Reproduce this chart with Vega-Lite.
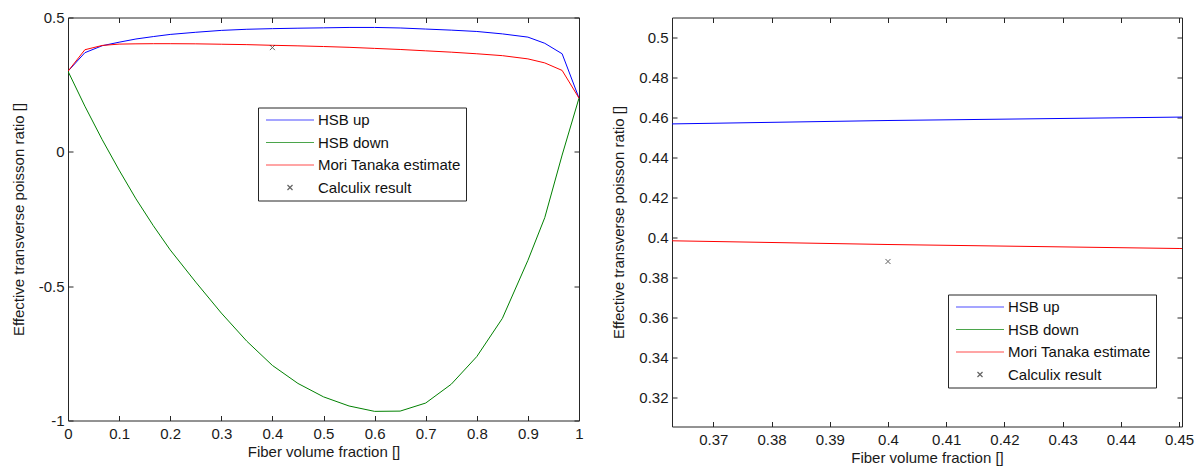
{
  "$schema": "https://vega.github.io/schema/vega-lite/v6.json",
  "padding": {"left": 10, "top": 9.5, "right": 5, "bottom": 3},
  "background": "white",
  "spacing": 93,
  "bounds": "flush",
  "data": {"values": [
    {"series": "HSB up", "x": 0, "y": 0.3}, {"series": "HSB up", "x": 0.033, "y": 0.369}, {"series": "HSB up", "x": 0.067, "y": 0.395}, {"series": "HSB up", "x": 0.1, "y": 0.408}, {"series": "HSB up", "x": 0.133, "y": 0.42}, {"series": "HSB up", "x": 0.167, "y": 0.429}, {"series": "HSB up", "x": 0.2, "y": 0.437}, {"series": "HSB up", "x": 0.25, "y": 0.445}, {"series": "HSB up", "x": 0.3, "y": 0.452}, {"series": "HSB up", "x": 0.35, "y": 0.4562}, {"series": "HSB up", "x": 0.4, "y": 0.4585}, {"series": "HSB up", "x": 0.45, "y": 0.4602}, {"series": "HSB up", "x": 0.5, "y": 0.4615}, {"series": "HSB up", "x": 0.55, "y": 0.463}, {"series": "HSB up", "x": 0.6, "y": 0.463}, {"series": "HSB up", "x": 0.65, "y": 0.461}, {"series": "HSB up", "x": 0.7, "y": 0.457}, {"series": "HSB up", "x": 0.75, "y": 0.453}, {"series": "HSB up", "x": 0.8, "y": 0.448}, {"series": "HSB up", "x": 0.85, "y": 0.439}, {"series": "HSB up", "x": 0.9, "y": 0.427}, {"series": "HSB up", "x": 0.933, "y": 0.404}, {"series": "HSB up", "x": 0.967, "y": 0.365}, {"series": "HSB up", "x": 1, "y": 0.2},
    {"series": "HSB down", "x": 0, "y": 0.3}, {"series": "HSB down", "x": 0.033, "y": 0.17}, {"series": "HSB down", "x": 0.067, "y": 0.045}, {"series": "HSB down", "x": 0.1, "y": -0.068}, {"series": "HSB down", "x": 0.133, "y": -0.175}, {"series": "HSB down", "x": 0.167, "y": -0.275}, {"series": "HSB down", "x": 0.2, "y": -0.365}, {"series": "HSB down", "x": 0.25, "y": -0.485}, {"series": "HSB down", "x": 0.3, "y": -0.6}, {"series": "HSB down", "x": 0.35, "y": -0.705}, {"series": "HSB down", "x": 0.4, "y": -0.795}, {"series": "HSB down", "x": 0.45, "y": -0.862}, {"series": "HSB down", "x": 0.5, "y": -0.912}, {"series": "HSB down", "x": 0.55, "y": -0.946}, {"series": "HSB down", "x": 0.6, "y": -0.966}, {"series": "HSB down", "x": 0.65, "y": -0.965}, {"series": "HSB down", "x": 0.7, "y": -0.935}, {"series": "HSB down", "x": 0.75, "y": -0.865}, {"series": "HSB down", "x": 0.8, "y": -0.762}, {"series": "HSB down", "x": 0.85, "y": -0.62}, {"series": "HSB down", "x": 0.9, "y": -0.404}, {"series": "HSB down", "x": 0.933, "y": -0.245}, {"series": "HSB down", "x": 0.967, "y": -0.012}, {"series": "HSB down", "x": 1, "y": 0.2},
    {"series": "Mori Tanaka estimate", "x": 0, "y": 0.3}, {"series": "Mori Tanaka estimate", "x": 0.033, "y": 0.38}, {"series": "Mori Tanaka estimate", "x": 0.067, "y": 0.396}, {"series": "Mori Tanaka estimate", "x": 0.1, "y": 0.401}, {"series": "Mori Tanaka estimate", "x": 0.133, "y": 0.402}, {"series": "Mori Tanaka estimate", "x": 0.167, "y": 0.4025}, {"series": "Mori Tanaka estimate", "x": 0.2, "y": 0.4025}, {"series": "Mori Tanaka estimate", "x": 0.25, "y": 0.402}, {"series": "Mori Tanaka estimate", "x": 0.3, "y": 0.4005}, {"series": "Mori Tanaka estimate", "x": 0.35, "y": 0.399}, {"series": "Mori Tanaka estimate", "x": 0.4, "y": 0.3965}, {"series": "Mori Tanaka estimate", "x": 0.45, "y": 0.3945}, {"series": "Mori Tanaka estimate", "x": 0.5, "y": 0.392}, {"series": "Mori Tanaka estimate", "x": 0.55, "y": 0.389}, {"series": "Mori Tanaka estimate", "x": 0.6, "y": 0.385}, {"series": "Mori Tanaka estimate", "x": 0.65, "y": 0.381}, {"series": "Mori Tanaka estimate", "x": 0.7, "y": 0.376}, {"series": "Mori Tanaka estimate", "x": 0.75, "y": 0.371}, {"series": "Mori Tanaka estimate", "x": 0.8, "y": 0.365}, {"series": "Mori Tanaka estimate", "x": 0.85, "y": 0.358}, {"series": "Mori Tanaka estimate", "x": 0.9, "y": 0.346}, {"series": "Mori Tanaka estimate", "x": 0.933, "y": 0.331}, {"series": "Mori Tanaka estimate", "x": 0.967, "y": 0.303}, {"series": "Mori Tanaka estimate", "x": 1, "y": 0.2},
    {"series": "Calculix result", "x": 0.4, "y": 0.388}
  ]},
  "resolve": {"scale": {"color": "independent", "shape": "independent"}, "legend": {"color": "independent", "shape": "independent"}},
  "hconcat": [
    {
      "width": 511,
      "height": 403,
      "resolve": {"axis": {"x": "independent", "y": "independent"}},
      "layer": [
        {
          "transform": [{"filter": "datum.series != 'Calculix result'"}],
          "mark": {"type": "line", "strokeWidth": 1, "clip": true},
          "encoding": {
            "x": {"field": "x", "type": "quantitative", "scale": {"domain": [0, 1], "nice": false, "zero": false},
                  "axis": {"orient": "bottom", "values": [0, 0.1, 0.2, 0.3, 0.4, 0.5, 0.6, 0.7, 0.8, 0.9, 1], "format": "~g", "labelFlush": false, "labelPadding": 11, "title": "Fiber volume fraction []", "titlePadding": 3}},
            "y": {"field": "y", "type": "quantitative", "scale": {"domain": [-1, 0.5], "nice": false, "zero": false},
                  "axis": {"orient": "left", "values": [-1, -0.5, 0, 0.5], "format": "~g", "labelPadding": 9, "title": "Effective transverse poisson ratio []", "titlePadding": 12}},
            "color": {"field": "series", "type": "nominal",
                      "scale": {"domain": ["HSB up", "HSB down", "Mori Tanaka estimate", "Calculix result"], "range": ["#0000ff", "#008000", "#ff0000", "#222222"]},
                      "legend": {"orient": "none", "legendX": 190, "legendY": 90}}
          }
        },
        {
          "transform": [{"filter": "datum.series == 'Calculix result'"}],
          "mark": {"type": "point", "filled": false, "strokeWidth": 1, "size": 144, "clip": true},
          "encoding": {
            "x": {"field": "x", "type": "quantitative", "axis": {"orient": "top", "values": [0, 0.1, 0.2, 0.3, 0.4, 0.5, 0.6, 0.7, 0.8, 0.9, 1], "labels": false, "title": null}},
            "y": {"field": "y", "type": "quantitative", "axis": {"orient": "right", "values": [-1, -0.5, 0, 0.5], "labels": false, "title": null}},
            "color": {"field": "series", "type": "nominal",
                      "scale": {"domain": ["HSB up", "HSB down", "Mori Tanaka estimate", "Calculix result"], "range": ["#0000ff", "#008000", "#ff0000", "#222222"]},
                      "legend": {"orient": "none", "legendX": 190, "legendY": 90}},
            "shape": {"field": "series", "type": "nominal",
                      "scale": {"domain": ["HSB up", "HSB down", "Mori Tanaka estimate", "Calculix result"], "range": ["M-4,0L4,0", "M-4,0L4,0", "M-4,0L4,0", "M-0.42,-0.42L0.42,0.42M-0.42,0.42L0.42,-0.42"]},
                      "legend": {"orient": "none", "legendX": 190, "legendY": 90}}
          }
        }
      ]
    },
    {
      "width": 510,
      "height": 409,
      "resolve": {"axis": {"x": "independent", "y": "independent"}},
      "layer": [
        {
          "transform": [{"filter": "datum.series != 'Calculix result'"}],
          "mark": {"type": "line", "strokeWidth": 1, "clip": true},
          "encoding": {
            "x": {"field": "x", "type": "quantitative", "scale": {"domain": [0.3629, 0.4505], "nice": false, "zero": false},
                  "axis": {"orient": "bottom", "values": [0.37, 0.38, 0.39, 0.4, 0.41, 0.42, 0.43, 0.44, 0.45], "format": "~g", "labelFlush": false, "labelPadding": 11, "title": "Fiber volume fraction []", "titlePadding": 3}},
            "y": {"field": "y", "type": "quantitative", "scale": {"domain": [0.3055, 0.51], "nice": false, "zero": false},
                  "axis": {"orient": "left", "values": [0.32, 0.34, 0.36, 0.38, 0.4, 0.42, 0.44, 0.46, 0.48, 0.5], "format": "~g", "labelPadding": 9, "title": "Effective transverse poisson ratio []", "titlePadding": 12}},
            "color": {"field": "series", "type": "nominal",
                      "scale": {"domain": ["HSB up", "HSB down", "Mori Tanaka estimate", "Calculix result"], "range": ["#0000ff", "#008000", "#ff0000", "#222222"]},
                      "legend": {"orient": "none", "legendX": 276, "legendY": 277}}
          }
        },
        {
          "transform": [{"filter": "datum.series == 'Calculix result'"}],
          "mark": {"type": "point", "filled": false, "strokeWidth": 1, "size": 144, "clip": true},
          "encoding": {
            "x": {"field": "x", "type": "quantitative", "axis": {"orient": "top", "values": [0.37, 0.38, 0.39, 0.4, 0.41, 0.42, 0.43, 0.44, 0.45], "labels": false, "title": null}},
            "y": {"field": "y", "type": "quantitative", "axis": {"orient": "right", "values": [0.32, 0.34, 0.36, 0.38, 0.4, 0.42, 0.44, 0.46, 0.48, 0.5], "labels": false, "title": null}},
            "color": {"field": "series", "type": "nominal",
                      "scale": {"domain": ["HSB up", "HSB down", "Mori Tanaka estimate", "Calculix result"], "range": ["#0000ff", "#008000", "#ff0000", "#222222"]},
                      "legend": {"orient": "none", "legendX": 276, "legendY": 277}},
            "shape": {"field": "series", "type": "nominal",
                      "scale": {"domain": ["HSB up", "HSB down", "Mori Tanaka estimate", "Calculix result"], "range": ["M-4,0L4,0", "M-4,0L4,0", "M-4,0L4,0", "M-0.42,-0.42L0.42,0.42M-0.42,0.42L0.42,-0.42"]},
                      "legend": {"orient": "none", "legendX": 276, "legendY": 277}}
          }
        }
      ]
    }
  ],
  "config": {
    "font": "Liberation Sans",
    "view": {"stroke": "#262626", "strokeWidth": 1},
    "locale": {"number": {"decimal": ".", "thousands": ",", "grouping": [3], "currency": ["$", ""], "minus": "-"}},
    "axis": {"grid": false, "domain": false, "tickColor": "#262626", "tickSize": -5, "tickWidth": 1, "labelFontSize": 15, "labelColor": "#1a1a1a", "labelFont": "Liberation Sans", "titleFont": "Liberation Sans", "titleFontSize": 15, "titleFontWeight": "normal", "titleColor": "#1a1a1a"},
    "legend": {"title": null, "padding": 5, "strokeColor": "#262626", "fillColor": "white", "labelFontSize": 15, "labelFont": "Liberation Sans", "labelColor": "#111111", "rowPadding": 6.5, "symbolSize": 144, "symbolStrokeWidth": 1.2, "symbolOffset": 19.5, "labelOffset": 20.5, "symbolFillColor": "transparent", "direction": "vertical"}
  }
}
